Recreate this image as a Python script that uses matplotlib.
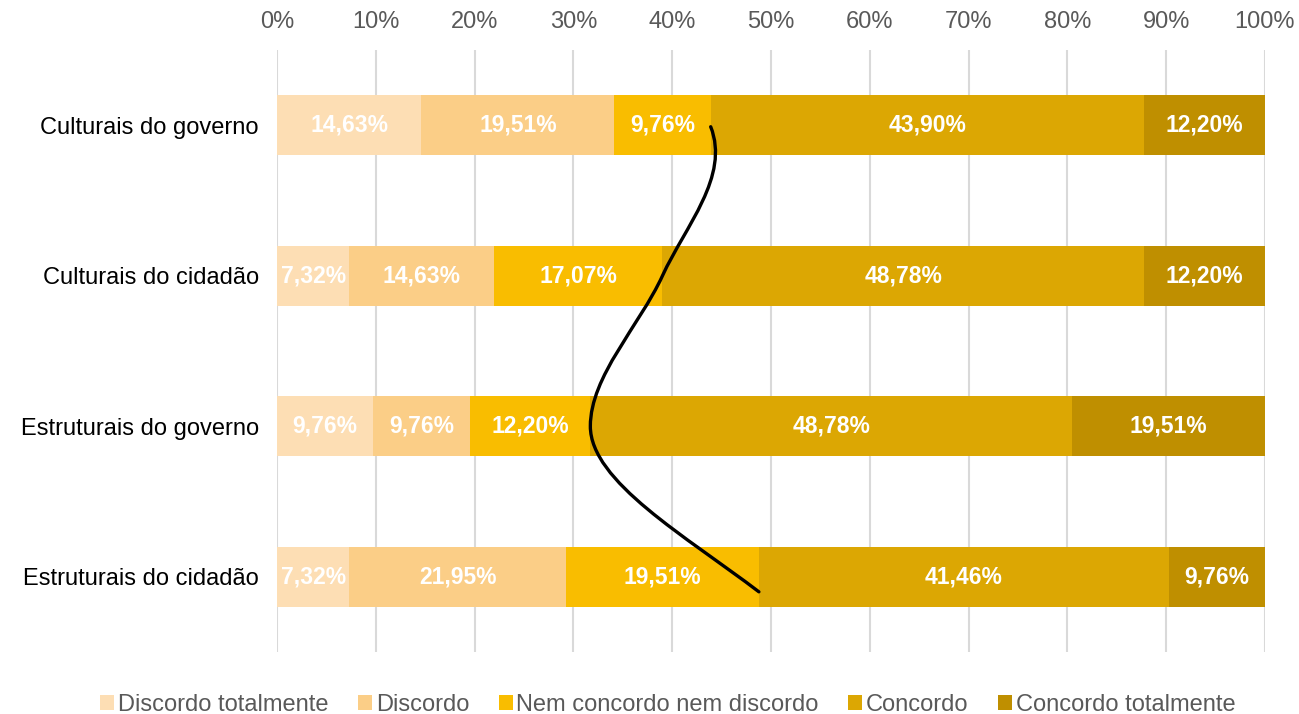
import numpy as np
import matplotlib.pyplot as plt
from matplotlib.path import Path
from matplotlib.patches import PathPatch

plt.rcParams['font.family'] = ['Liberation Sans', 'DejaVu Sans']

categorias = ['Culturais do governo', 'Culturais do cidadão',
              'Estruturais do governo', 'Estruturais do cidadão']
respostas = ['Discordo totalmente', 'Discordo', 'Nem concordo nem discordo',
             'Concordo', 'Concordo totalmente']
valores = np.array([
    [14.63, 19.51, 9.76, 43.90, 12.20],
    [7.32, 14.63, 17.07, 48.78, 12.20],
    [9.76, 9.76, 12.20, 48.78, 19.51],
    [7.32, 21.95, 19.51, 41.46, 9.76],
])
cores = ['#FDDEB4', '#FBCE87', '#F9BD00', '#DCA703', '#BF8F00']

fig = plt.figure(figsize=(12.99, 7.14), dpi=100)
ax = fig.add_axes([0.2132, 0.0868, 0.7606, 0.8432])

y = np.arange(len(categorias))
esquerda = np.zeros(len(categorias))
for j, resp in enumerate(respostas):
    ax.barh(y, valores[:, j], left=esquerda, height=0.4, color=cores[j],
            label=resp, zorder=2)
    for i in range(len(categorias)):
        ax.text(esquerda[i] + valores[i, j] / 2, y[i],
                f'{valores[i, j]:.2f}%'.replace('.', ','),
                ha='center', va='center', color='white', fontsize=16.5,
                fontweight='bold', zorder=3)
    esquerda += valores[:, j]

# curva (desenhada à mão no original) ligando a fronteira
# entre "nem concordo nem discordo" e "concordo"
fronteira = valores[:, :3].sum(axis=1)
ys = y.astype(float).copy()
ys[0] += 0.01
ys[-1] += 0.1
tang = [6, -7, 0, 20]  # inclinação dx/dy em cada ponto
verts = [(fronteira[0], ys[0])]
codes = [Path.MOVETO]
for i in range(len(ys) - 1):
    dy = (ys[i + 1] - ys[i]) / 3
    verts += [(fronteira[i] + tang[i] * dy, ys[i] + dy),
              (fronteira[i + 1] - tang[i + 1] * dy, ys[i + 1] - dy),
              (fronteira[i + 1], ys[i + 1])]
    codes += [Path.CURVE4] * 3
ax.add_patch(PathPatch(Path(verts, codes), fill=False, lw=2.4,
                       edgecolor='black', zorder=4, capstyle='round'))

ax.set_xlim(0, 100)
ax.set_ylim(3.5, -0.5)
ax.set_yticks(y)
ax.set_yticklabels(categorias, fontsize=17, color='black')
ax.set_xticks(np.arange(0, 101, 10))
ax.set_xticklabels([f'{v}%' for v in range(0, 101, 10)], fontsize=17,
                   color='#595959')
ax.xaxis.tick_top()
ax.tick_params(length=0, pad=12)
ax.tick_params(axis='y', pad=13)
ax.grid(axis='x', color='#D9D9D9', lw=1.5, zorder=0)
ax.set_axisbelow(True)
for s in ax.spines.values():
    s.set_visible(False)

fig.legend(loc='lower center', bbox_to_anchor=(0.514, -0.032), ncol=5,
           frameon=False, fontsize=17, handlelength=0.6, handleheight=0.6,
           handletextpad=0.15, columnspacing=1.25, labelcolor='#595959')

fig.savefig('out.png', dpi=100)
